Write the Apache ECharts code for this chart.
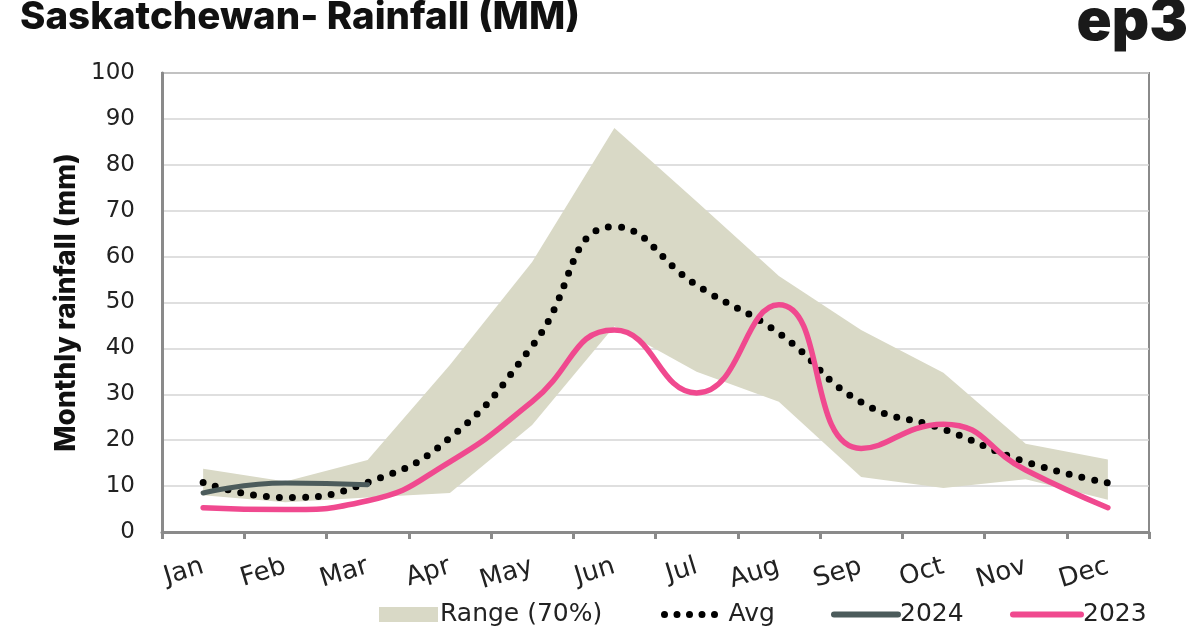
<!DOCTYPE html>
<html><head><meta charset="utf-8">
<script src="https://cdn.jsdelivr.net/npm/echarts@6/dist/echarts.min.js"></script>
<style>html,body{margin:0;padding:0;background:#fff}#c{width:1200px;height:630px}</style>
</head><body><div id="c"></div>
<script>
const months = ['Jan','Feb','Mar','Apr','May','Jun','Jul','Aug','Sep','Oct','Nov','Dec'];
const rangeLow  = [8, 6.5, 7.5, 8.5, 23.3, 44.8, 34.9, 28.4, 12, 9.6, 11.5, 7];
const rangeHigh = [13.8, 11, 15.7, 36.4, 58.8, 88, 72, 55.8, 44, 34.7, 19.2, 15.8];
const avg  = [10.8, 7.5, 10.8, 20.5, 40.5, 66.5, 53.8, 43.3, 28.3, 22.4, 15.3, 10.7];
const y2024 = [8.5, 10.7, 10.3];
const y2023 = [5.3, 4.9, 6.8, 15.3, 28.4, 44, 30.3, 49.5, 18.2, 23.5, 13.5, 5.3];
const yTicks = [0,10,20,30,40,50,60,70,80,90,100];

const FONT = 'Inter, "Noto Sans", sans-serif';
const LFONT = '"DejaVu Sans", sans-serif';
const legendText = {fontFamily: LFONT, fontSize: 25, color: '#222', padding: [0,0,0,-3]};
const hideSym = {opacity: 0};
const chart = echarts.init(document.getElementById('c'), null, {renderer:'canvas'});
chart.setOption({
  animation: false,
  backgroundColor: '#fff',
  title: {
    text: 'Saskatchewan- Rainfall (MM)', left: 20, top: -2, padding: 0,
    textStyle: {fontFamily: FONT, fontWeight: 800, fontSize: 38.5, color: '#111'}
  },
  graphic: [{
    type: 'text', right: 12, top: -6,
    style: {text: 'ep3', fontFamily: FONT, fontWeight: 900, fontSize: 58, fill: '#1a1a1a'}
  }],
  grid: {left: 162, right: 51, top: 73, bottom: 98, show: true, borderColor: '#8a8a8a', borderWidth: 2},
  legend: [
    {left: 374, top: 597, itemWidth: 59, itemHeight: 15, itemGap: 0, textStyle: legendText,
     data: [{name: 'Range (70%)', icon: 'rect'}]},
    {left: 656, top: 597, itemWidth: 62, itemHeight: 15, itemGap: 0, textStyle: legendText,
     data: [{name: 'Avg', itemStyle: hideSym,
             lineStyle: {color: '#000', width: 7, type: [0, 12.5], cap: 'round'}}]},
    {left: 826, top: 597, itemWidth: 64, itemHeight: 15, itemGap: 0, textStyle: legendText,
     data: [{name: '2024', itemStyle: hideSym,
             lineStyle: {color: '#4b5b5b', width: 6, cap: 'round'}}]},
    {left: 1005, top: 597, itemWidth: 68, itemHeight: 15, itemGap: 0, textStyle: legendText,
     data: [{name: '2023', itemStyle: hideSym,
             lineStyle: {color: '#f0498f', width: 6, cap: 'round'}}]}
  ],
  xAxis: {
    type: 'category', data: months, boundaryGap: true,
    axisLine: {lineStyle: {color: '#8a8a8a', width: 3}},
    axisTick: {show: true, length: 7, lineStyle: {color: '#8a8a8a', width: 3}},
    axisLabel: {rotate: 17, margin: 34, fontFamily: LFONT, fontSize: 26, color: '#222'}
  },
  yAxis: {
    type: 'value', min: 0, max: 100, interval: 10,
    name: 'Monthly rainfall (mm)', nameLocation: 'middle', nameGap: 80,
    nameTextStyle: {fontFamily: FONT, fontWeight: 800, fontSize: 28, color: '#111'},
    axisLine: {show: true, lineStyle: {color: '#8a8a8a', width: 3}},
    axisTick: {show: false},
    splitLine: {lineStyle: {color: '#d4d4d4', width: 1.5}},
    axisLabel: {margin: 27, fontFamily: LFONT, fontSize: 23, color: '#222',
      formatter: v => yTicks.includes(v) ? String(v) : ''}
  },
  series: [
    {name: 'rangeBase', type: 'line', stack: 'r', data: rangeLow, symbol: 'none',
     lineStyle: {opacity: 0}, areaStyle: {opacity: 0}, silent: true, z: 1},
    {name: 'Range (70%)', type: 'line', stack: 'r', symbol: 'none',
     data: rangeHigh.map((v,i) => +(v - rangeLow[i]).toFixed(2)),
     itemStyle: {color: '#d9d9c6'},
     lineStyle: {opacity: 0}, areaStyle: {color: '#d9d9c6', opacity: 1}, z: 1},
    {name: 'Avg', type: 'line', data: avg, smooth: 0.5, symbol: 'none',
     itemStyle: {color: '#000'},
     lineStyle: {color: '#000', width: 7, type: [0, 13], cap: 'round'}, z: 3},
    {name: '2024', type: 'line', data: y2024, smooth: 0.5, symbol: 'none',
     itemStyle: {color: '#4b5b5b'},
     lineStyle: {color: '#4b5b5b', width: 5, cap: 'round'}, z: 4},
    {name: '2023', type: 'line', data: y2023, smooth: 0.5, symbol: 'none',
     itemStyle: {color: '#f0498f'},
     lineStyle: {color: '#f0498f', width: 5.5, cap: 'round'}, z: 5}
  ]
});
</script></body></html>
